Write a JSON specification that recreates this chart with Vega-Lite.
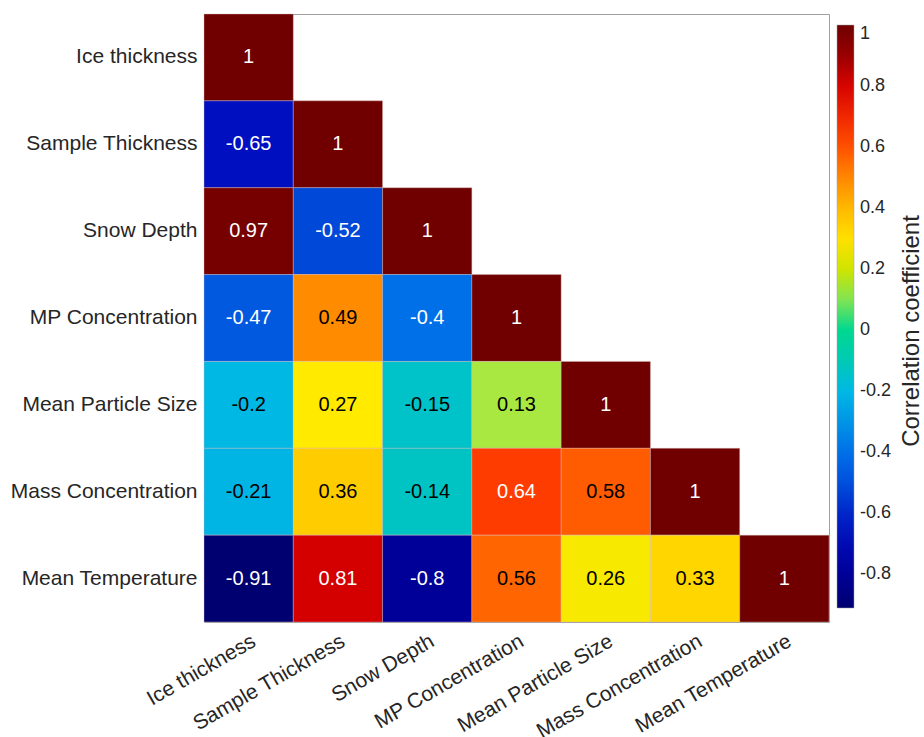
{
  "$schema": "https://vega.github.io/schema/vega-lite/v6.json",
  "width": 625,
  "height": 608,
  "autosize": "none",
  "padding": {"left": 204, "top": 14, "right": 95, "bottom": 115},
  "background": "white",
  "config": {
    "font": "Liberation Sans",
    "view": {"stroke": "#a0a0a0", "strokeWidth": 1}
  },
  "data": {
    "values": [
      {"row": "Ice thickness", "col": "Ice thickness", "r": 1},
      {"row": "Sample Thickness", "col": "Ice thickness", "r": -0.65},
      {"row": "Sample Thickness", "col": "Sample Thickness", "r": 1},
      {"row": "Snow Depth", "col": "Ice thickness", "r": 0.97},
      {"row": "Snow Depth", "col": "Sample Thickness", "r": -0.52},
      {"row": "Snow Depth", "col": "Snow Depth", "r": 1},
      {"row": "MP Concentration", "col": "Ice thickness", "r": -0.47},
      {"row": "MP Concentration", "col": "Sample Thickness", "r": 0.49},
      {"row": "MP Concentration", "col": "Snow Depth", "r": -0.4},
      {"row": "MP Concentration", "col": "MP Concentration", "r": 1},
      {"row": "Mean Particle Size", "col": "Ice thickness", "r": -0.2},
      {"row": "Mean Particle Size", "col": "Sample Thickness", "r": 0.27},
      {"row": "Mean Particle Size", "col": "Snow Depth", "r": -0.15},
      {"row": "Mean Particle Size", "col": "MP Concentration", "r": 0.13},
      {"row": "Mean Particle Size", "col": "Mean Particle Size", "r": 1},
      {"row": "Mass Concentration", "col": "Ice thickness", "r": -0.21},
      {"row": "Mass Concentration", "col": "Sample Thickness", "r": 0.36},
      {"row": "Mass Concentration", "col": "Snow Depth", "r": -0.14},
      {"row": "Mass Concentration", "col": "MP Concentration", "r": 0.64},
      {"row": "Mass Concentration", "col": "Mean Particle Size", "r": 0.58},
      {"row": "Mass Concentration", "col": "Mass Concentration", "r": 1},
      {"row": "Mean Temperature", "col": "Ice thickness", "r": -0.91},
      {"row": "Mean Temperature", "col": "Sample Thickness", "r": 0.81},
      {"row": "Mean Temperature", "col": "Snow Depth", "r": -0.8},
      {"row": "Mean Temperature", "col": "MP Concentration", "r": 0.56},
      {"row": "Mean Temperature", "col": "Mean Particle Size", "r": 0.26},
      {"row": "Mean Temperature", "col": "Mass Concentration", "r": 0.33},
      {"row": "Mean Temperature", "col": "Mean Temperature", "r": 1}
    ]
  },
  "encoding": {
    "x": {
      "field": "col", "type": "nominal",
      "sort": ["Ice thickness", "Sample Thickness", "Snow Depth", "MP Concentration", "Mean Particle Size", "Mass Concentration", "Mean Temperature"],
      "scale": {"paddingInner": 0, "paddingOuter": 0},
      "axis": {"title": null, "labelAngle": -30, "labelAlign": "right", "labelBaseline": "top", "labelFontSize": 21, "labelColor": "#262626", "ticks": false, "domain": false, "labelPadding": 8, "labelLimit": 0, "labelOverlap": false}
    },
    "y": {
      "field": "row", "type": "nominal",
      "sort": ["Ice thickness", "Sample Thickness", "Snow Depth", "MP Concentration", "Mean Particle Size", "Mass Concentration", "Mean Temperature"],
      "scale": {"paddingInner": 0, "paddingOuter": 0},
      "axis": {"title": null, "labelFontSize": 21, "labelColor": "#262626", "ticks": false, "domain": false, "labelPadding": 7, "labelLimit": 0}
    }
  },
  "layer": [
    {
      "mark": {"type": "rect", "stroke": "#d8b8b8", "strokeWidth": 0.4},
      "encoding": {
        "color": {
          "field": "r", "type": "quantitative",
          "scale": {
            "domain": [-0.91, -0.8, -0.65, -0.52, -0.4, -0.2, -0.14, 0, 0.13, 0.2, 0.27, 0.36, 0.49, 0.57, 0.64, 0.81, 0.95, 1],
            "range": ["#000070", "#000098", "#0010c0", "#0048d8", "#0070e8", "#00b8e4", "#00c4c4", "#00d890", "#a8e840", "#d0e400", "#ffea00", "#ffcc00", "#ff8c00", "#ff6000", "#ff3c00", "#d40000", "#7a0000", "#700000"],
            "interpolate": "rgb"
          },
          "legend": {
            "title": "Correlation coefficient",
            "orient": "none",
            "legendX": 633,
            "legendY": 11,
            "direction": "vertical",
            "gradientLength": 583,
            "gradientThickness": 17,
            "gradientStrokeColor": "#a0a0a0",
            "gradientStrokeWidth": 0.5,
            "values": [1, 0.8, 0.6, 0.4, 0.2, 0, -0.2, -0.4, -0.6, -0.8],
            "labelExpr": "'' + datum.value",
            "labelFontSize": 18,
            "labelColor": "#262626",
            "labelOffset": 6,
            "labelOverlap": false,
            "titleOrient": "right",
            "titleAnchor": "middle",
            "titleFontSize": 24,
            "titleFontWeight": "normal",
            "titleColor": "#262626",
            "titlePadding": 33,
            "titleLimit": 0,
            "encode": {"title": {"update": {"angle": {"value": 270}, "dx": {"value": -14}}}}
          }
        }
      }
    },
    {
      "transform": [{"calculate": "'' + datum.r", "as": "lbl"}],
      "mark": {"type": "text", "fontSize": 20},
      "encoding": {
        "text": {"field": "lbl", "type": "nominal"},
        "color": {
          "condition": {"test": "datum.r < -0.3 || datum.r > 0.6", "value": "white"},
          "value": "black"
        }
      }
    }
  ]
}
